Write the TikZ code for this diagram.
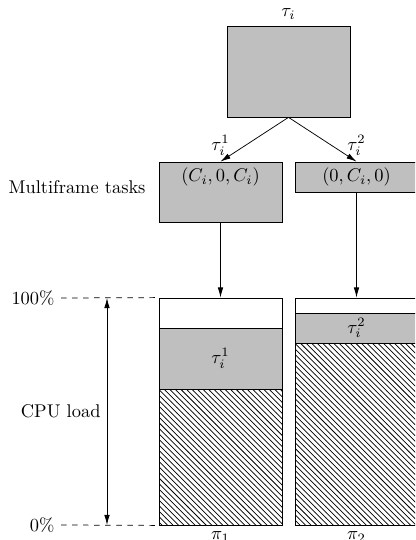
\documentclass[tikz,border=0pt]{standalone}
\usetikzlibrary{patterns,arrows.meta}
\tikzset{
  task/.style={draw,fill=black!25,minimum width=66.8pt,inner sep=0pt},
  cpu/.style={draw,minimum width=66.8pt,minimum height=123.3pt,inner sep=0pt},
  level/.style={dashed},
}
\begin{document}
\begin{tikzpicture}[x=0.543pt,y=-0.543pt,>={Latex[length=5.5pt,width=3pt]}]
  \useasboundingbox (0,0) rectangle (415,540);
  \clip (0,0) rectangle (415,540);
  % original task and its two frames
  \node[task,minimum height=49.4pt,label=above:$\tau_i$] (tau) at (288.5,71.5) {};
  \node[task,minimum height=32.6pt,label={[anchor=north]north:$(C_i,0,C_i)$}] (m1) at (220.5,192) {};
  \node[task,minimum height=16.3pt,label={[anchor=north]north:$(0,C_i,0)$}] (m2) at (356.5,177) {};
  \node[anchor=east] (mf) at (152,187) {Multiframe tasks};
  \draw[->] (tau.south) -- node[pos=1,above]{$\tau_i^1$} (m1.north);
  \draw[->] (tau.south) -- node[pos=1,above]{$\tau_i^2$} (m2.north);
  % processors
  \foreach \cx/\ya/\yb/\k in {220.5/328/389/1, 356.5/313/343/2}{%
    \fill[black!25] (\cx-61.5,\ya) rectangle (\cx+61.5,\yb);
    \fill[pattern=north west lines] (\cx-61.5,\yb) rectangle (\cx+61.5,525);
    \draw (\cx-61.5,\ya) -- (\cx+61.5,\ya) (\cx-61.5,\yb) -- (\cx+61.5,\yb);
    \node at (\cx,{(\ya+\yb)/2}) {$\tau_i^{\k}$};
    \node[cpu,label=below:$\pi_{\k}$] (p\k) at (\cx,411.5) {};
  }
  \draw[->] (m1.south) -- (p1.north);
  \draw[->] (m2.south) -- (p2.north);
  % load scale
  \node[anchor=east] (full) at (61,298) {100\%};
  \node[anchor=east] (zero) at (61,525) {0\%};
  \draw[level] (full.east) -- (p1.north west);
  \draw[level] (zero.east) -- (p1.south west);
  \coordinate (hi) at (107,298);
  \coordinate (lo) at (107,525);
  \draw[<->] (hi) -- node[left]{CPU load} (lo);
\end{tikzpicture}
\end{document}
